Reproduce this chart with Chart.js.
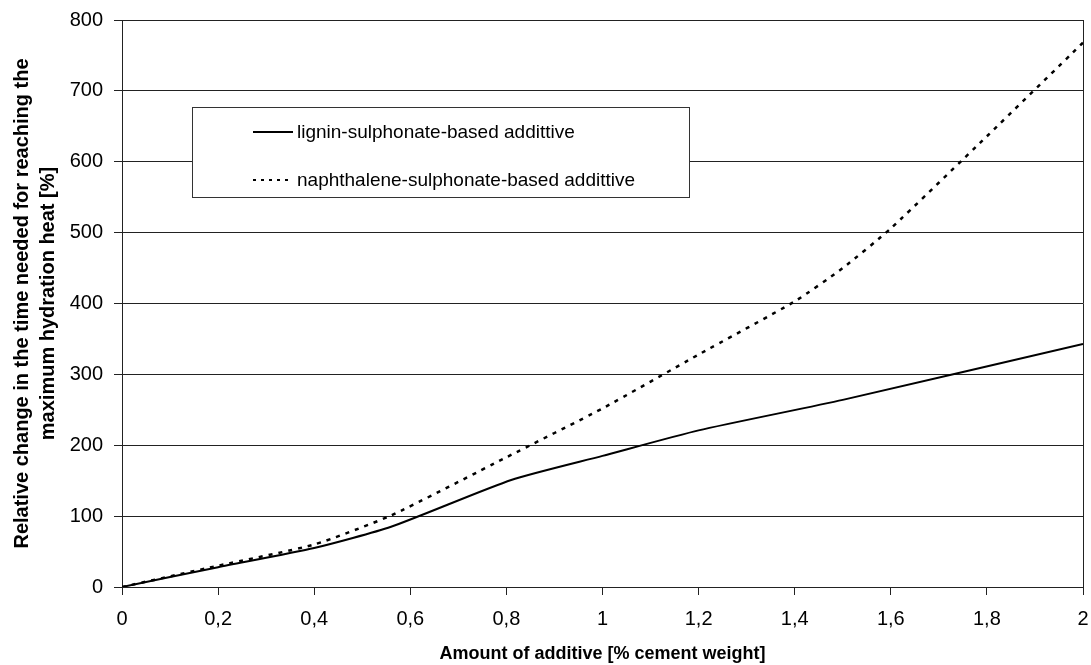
<!DOCTYPE html>
<html>
<head>
<meta charset="utf-8">
<script src="https://cdn.jsdelivr.net/npm/chart.js@4"></script>
<style>
  html, body { margin: 0; padding: 0; background: #fff; }
  #wrap { width: 1091px; height: 665px; }
</style>
</head>
<body>
<div id="wrap"><canvas id="myChart" width="1091" height="665"></canvas></div>
<script>
  // Datos
  const ligninX = [0, 0.2, 0.4, 0.56, 0.81, 1.0, 1.2, 1.5, 2.0];
  const ligninY = [0, 28, 55, 85, 151, 185, 221, 264, 343];

  const naphX = [0, 0.2, 0.4, 0.56, 0.8, 1.0, 1.2, 1.4, 1.5, 1.6, 1.8, 2.0];
  const naphY = [0, 30, 60, 101, 183, 252, 328, 403, 450, 506, 636, 768];

  const seriesNames = ['lignin-sulphonate-based addittive', 'naphthalene-sulphonate-based addittive'];
  const xTitle = 'Amount of additive [% cement weight]';
  const yTitle = ['Relative change in the time needed for reaching the', 'maximum hydration heat [%]'];

  const FONT = '"Liberation Sans", Arial, sans-serif';
  const toPoints = (xs, ys) => xs.map((x, i) => ({ x: x, y: ys[i] }));

  // Leyenda dibujada dentro del área del gráfico
  const boxLegend = {
    id: 'boxLegend',
    afterDraw(chart) {
      const ctx = chart.ctx;
      const area = chart.chartArea;
      ctx.save();
      // borde derecho del área
      ctx.strokeStyle = '#222';
      ctx.lineWidth = 1;
      ctx.beginPath();
      ctx.moveTo(Math.round(area.right) + 0.5, area.top);
      ctx.lineTo(Math.round(area.right) + 0.5, area.bottom);
      ctx.stroke();

      const bx = 192.5, by = 107.5, bw = 497, bh = 90;
      ctx.fillStyle = '#fff';
      ctx.fillRect(bx, by, bw, bh);
      ctx.strokeStyle = '#333';
      ctx.strokeRect(bx, by, bw, bh);

      ctx.font = '19px ' + FONT;
      ctx.textBaseline = 'middle';
      ctx.fillStyle = '#000';
      chart.data.datasets.forEach((ds, i) => {
        const y = [132, 180][i];
        ctx.strokeStyle = '#000';
        ctx.lineWidth = 2;
        ctx.setLineDash(ds.borderDash ? [3, 5] : []);
        ctx.beginPath();
        ctx.moveTo(253, y);
        ctx.lineTo(293, y);
        ctx.stroke();
        ctx.setLineDash([]);
        ctx.fillText(ds.label, 297, y + 1);
      });
      ctx.restore();
    }
  };

  const config = {
    type: 'line',
    data: {
      datasets: [{
        label: seriesNames[0],
        data: toPoints(ligninX, ligninY),
        borderColor: '#000',
        borderWidth: 2,
        pointRadius: 0,
        tension: 0.2,
        fill: false
      }, {
        label: seriesNames[1],
        data: toPoints(naphX, naphY),
        borderColor: '#000',
        borderWidth: 2.5,
        borderDash: [4, 6],
        pointRadius: 0,
        tension: 0.2,
        fill: false
      }]
    },
    options: {
      responsive: false,
      animation: false,
      layout: { padding: { top: 20, right: 8, left: 0, bottom: 0 } },
      plugins: {
        legend: { display: false },
        tooltip: { enabled: false }
      },
      scales: {
        x: {
          type: 'linear',
          min: 0,
          max: 2,
          afterFit: s => { s.height = 78; s.paddingLeft = 0; s.paddingRight = 0; },
          ticks: {
            stepSize: 0.2,
            color: '#000',
            padding: 12,
            maxRotation: 0,
            font: { family: FONT, size: 20 },
            callback: v => String(+v.toFixed(1)).replace('.', ',')
          },
          grid: { drawOnChartArea: false, drawTicks: true, tickLength: 8, color: '#222' },
          border: { color: '#222', width: 1 },
          title: {
            display: true,
            text: xTitle,
            color: '#000',
            font: { family: FONT, size: 18, weight: 'bold' },
            padding: { top: 0, bottom: 0 }
          }
        },
        y: {
          min: 0,
          max: 800,
          afterFit: s => { s.width = 122; s.paddingTop = 0; s.paddingBottom = 0; },
          ticks: {
            stepSize: 100,
            color: '#000',
            padding: 11,
            font: { family: FONT, size: 20 }
          },
          grid: { color: '#222', lineWidth: 1, tickLength: 8 },
          border: { color: '#222', width: 1 },
          title: {
            display: true,
            text: yTitle,
            color: '#000',
            font: { family: FONT, size: 20, weight: 'bold', lineHeight: 1.3 },
            padding: { top: 9, bottom: 0 }
          }
        }
      }
    },
    plugins: [boxLegend]
  };

  const chartCtx = document.getElementById('myChart').getContext('2d');
  new Chart(chartCtx, config);
</script>
</body>
</html>
